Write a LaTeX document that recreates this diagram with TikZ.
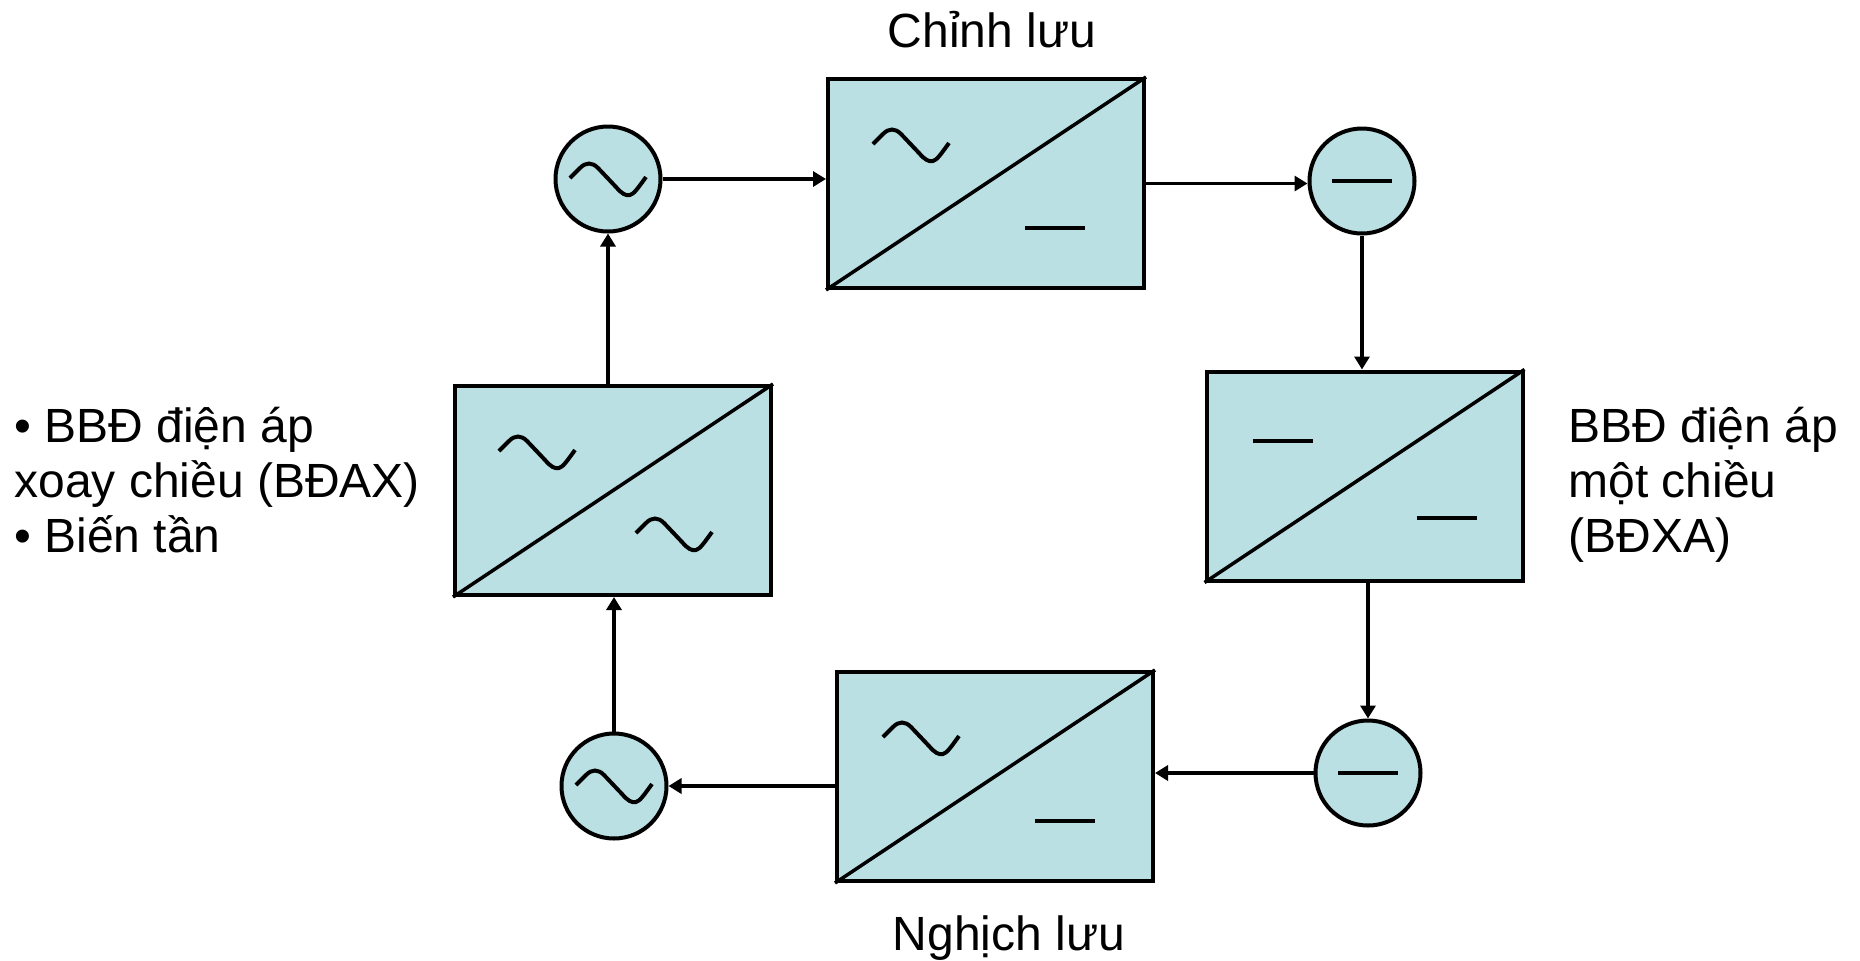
\documentclass[tikz,border=0pt]{standalone}
\usepackage{fontspec}
\setmainfont{Liberation Sans}
\usetikzlibrary{arrows.meta}
\definecolor{boxfill}{RGB}{187,224,227}
\begin{document}
\begin{tikzpicture}[x=0.5pt,y=-0.5pt,
  conv/.style={draw=black, line width=2pt, fill=boxfill, minimum width=158pt, minimum height=104.5pt, inner sep=0pt},
  src/.style={draw=black, line width=2pt, fill=boxfill, circle, minimum size=52.5pt, inner sep=0pt},
  arr/.style={line width=1.75pt, -{Triangle[length=6.5pt,width=7.5pt]}},
  sym/.style={line width=2pt},
  lbl/.style={font=\fontsize{24}{28}\selectfont, inner sep=0pt},
  acw/.pic={\draw[sym] (-38,-1) -- (-28,-11) .. controls (-22,-17) and (-16,-17) .. (-10,-11) -- (8,8) .. controls (14,15) and (18,17) .. (22,16) .. controls (26,15) and (30,9) .. (38,-2);},
  dcw/.pic={\draw[sym] (-30,0) -- (30,0);}]
\useasboundingbox (0,0) rectangle (1860,960);
\fill[white] (0,0) rectangle (1860,960);

% converter boxes
\node[conv] (top) at (986,183.5) {};
\node[conv] (rgt) at (1364.5,476) {};
\node[conv] (bot) at (995,776.5) {};
\node[conv] (lft) at (613,490.5) {};
\foreach \b in {top,rgt,bot,lft}{\draw[line width=1.75pt] (\b.south west) -- (\b.north east);}

% symbols in boxes
\pic at ([shift={(85,68)}]top.north west) {acw};
\pic at ([shift={(229,151)}]top.north west) {dcw};
\pic at ([shift={(78,71)}]rgt.north west) {dcw};
\pic at ([shift={(242,148)}]rgt.north west) {dcw};
\pic at ([shift={(84,68)}]lft.north west) {acw};
\pic at ([shift={(221,150)}]lft.north west) {acw};
\pic at ([shift={(86,68)}]bot.north west) {acw};
\pic at ([shift={(230,151)}]bot.north west) {dcw};

% sources
\node[src] (tl) at (608,179) {};
\node[src] (tr) at (1362,181) {};
\node[src] (br) at (1368,773) {};
\node[src] (bl) at (614,786) {};
\pic at (tl) {acw};
\pic at (bl) {acw};
\pic at (tr) {dcw};
\pic at (br) {dcw};

% connectors
\draw[arr] (tl) -- (tl -| top.west);
\draw[arr] (top) -- (top -| tr.west);
\draw[arr] (tr) -- (tr |- rgt.north);
\draw[arr] (br |- rgt.south) -- (br);
\draw[arr] (br) -- (br -| bot.east);
\draw[arr] (bl -| bot.west) -- (bl);
\draw[arr] (bl) -- (bl |- lft.south);
\draw[arr] (tl |- lft.north) -- (tl);

% labels
\node[lbl, anchor=base] (t1) at (992,47) {Chỉnh lưu};
\node[lbl, anchor=base] (t2) at (1009,950) {Nghịch lưu};
\node[lbl, anchor=base west] (l1) at (14,442) {• BBĐ điện áp};
\node[lbl, anchor=base west] (l2) at (14,497) {xoay chiều (BĐAX)};
\node[lbl, anchor=base west] (l3) at (14,552) {• Biến tần};
\node[lbl, anchor=base west] (r1) at (1568,442) {BBĐ điện áp};
\node[lbl, anchor=base west] (r2) at (1568,497) {một chiều};
\node[lbl, anchor=base west] (r3) at (1568,552) {(BĐXA)};
\end{tikzpicture}
\end{document}
